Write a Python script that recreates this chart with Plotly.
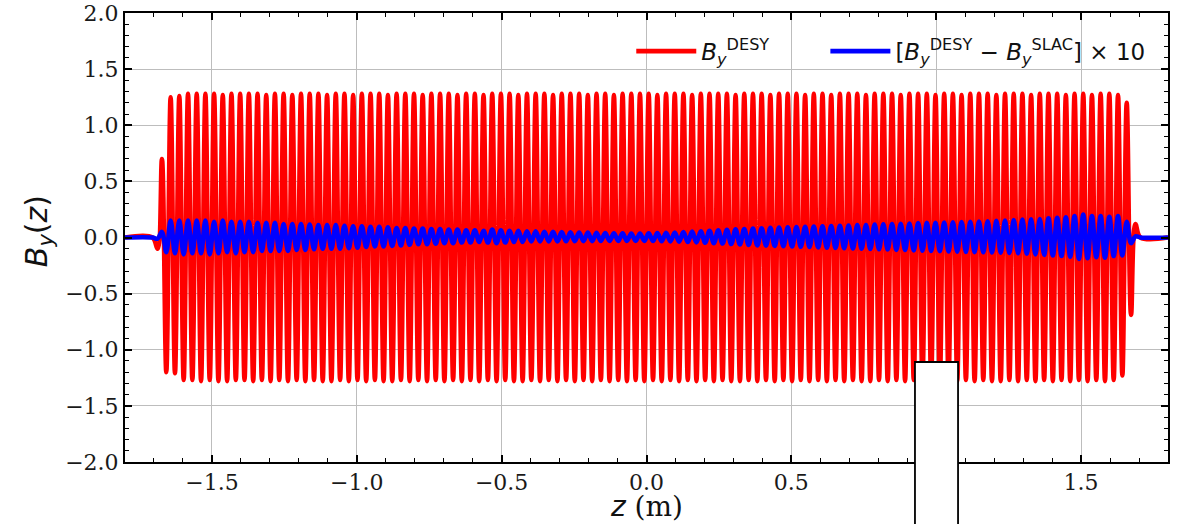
import plotly.graph_objects as go

# positions of the field extrema along the undulator (m)
z_ext = [
    -1.6875, -1.6725, -1.6575, -1.6425, -1.6275, -1.6125, -1.5975, -1.5825, -1.5675, -1.5525,
    -1.5375, -1.5225, -1.5075, -1.4925, -1.4775, -1.4625, -1.4475, -1.4325, -1.4175, -1.4025,
    -1.3875, -1.3725, -1.3575, -1.3425, -1.3275, -1.3125, -1.2975, -1.2825, -1.2675, -1.2525,
    -1.2375, -1.2225, -1.2075, -1.1925, -1.1775, -1.1625, -1.1475, -1.1325, -1.1175, -1.1025,
    -1.0875, -1.0725, -1.0575, -1.0425, -1.0275, -1.0125, -0.9975, -0.9825, -0.9675, -0.9525,
    -0.9375, -0.9225, -0.9075, -0.8925, -0.8775, -0.8625, -0.8475, -0.8325, -0.8175, -0.8025,
    -0.7875, -0.7725, -0.7575, -0.7425, -0.7275, -0.7125, -0.6975, -0.6825, -0.6675, -0.6525,
    -0.6375, -0.6225, -0.6075, -0.5925, -0.5775, -0.5625, -0.5475, -0.5325, -0.5175, -0.5025,
    -0.4875, -0.4725, -0.4575, -0.4425, -0.4275, -0.4125, -0.3975, -0.3825, -0.3675, -0.3525,
    -0.3375, -0.3225, -0.3075, -0.2925, -0.2775, -0.2625, -0.2475, -0.2325, -0.2175, -0.2025,
    -0.1875, -0.1725, -0.1575, -0.1425, -0.1275, -0.1125, -0.0975, -0.0825, -0.0675, -0.0525,
    -0.0375, -0.0225, -0.0075, 0.0075, 0.0225, 0.0375, 0.0525, 0.0675, 0.0825, 0.0975,
    0.1125, 0.1275, 0.1425, 0.1575, 0.1725, 0.1875, 0.2025, 0.2175, 0.2325, 0.2475,
    0.2625, 0.2775, 0.2925, 0.3075, 0.3225, 0.3375, 0.3525, 0.3675, 0.3825, 0.3975,
    0.4125, 0.4275, 0.4425, 0.4575, 0.4725, 0.4875, 0.5025, 0.5175, 0.5325, 0.5475,
    0.5625, 0.5775, 0.5925, 0.6075, 0.6225, 0.6375, 0.6525, 0.6675, 0.6825, 0.6975,
    0.7125, 0.7275, 0.7425, 0.7575, 0.7725, 0.7875, 0.8025, 0.8175, 0.8325, 0.8475,
    0.8625, 0.8775, 0.8925, 0.9075, 0.9225, 0.9375, 0.9525, 0.9675, 0.9825, 0.9975,
    1.0125, 1.0275, 1.0425, 1.0575, 1.0725, 1.0875, 1.1025, 1.1175, 1.1325, 1.1475,
    1.1625, 1.1775, 1.1925, 1.2075, 1.2225, 1.2375, 1.2525, 1.2675, 1.2825, 1.2975,
    1.3125, 1.3275, 1.3425, 1.3575, 1.3725, 1.3875, 1.4025, 1.4175, 1.4325, 1.4475,
    1.4625, 1.4775, 1.4925, 1.5075, 1.5225, 1.5375, 1.5525, 1.5675, 1.5825, 1.5975,
    1.6125, 1.6275, 1.6425, 1.6575, 1.6725, 1.6875,
]

# B_y^DESY at each extremum
by_desy = [
    -0.10, 0.70, -1.20, 1.25, -1.21, 1.26, -1.27, 1.28, -1.27, 1.28,
    -1.28, 1.28, -1.27, 1.28, -1.28, 1.27, -1.28, 1.28, -1.27, 1.28,
    -1.27, 1.28, -1.28, 1.28, -1.27, 1.27, -1.28, 1.28, -1.27, 1.28,
    -1.28, 1.27, -1.27, 1.28, -1.28, 1.28, -1.27, 1.28, -1.28, 1.27,
    -1.28, 1.28, -1.27, 1.28, -1.28, 1.27, -1.27, 1.28, -1.28, 1.28,
    -1.27, 1.28, -1.28, 1.27, -1.28, 1.28, -1.27, 1.28, -1.28, 1.28,
    -1.27, 1.27, -1.28, 1.28, -1.27, 1.28, -1.28, 1.28, -1.27, 1.27,
    -1.28, 1.28, -1.27, 1.28, -1.28, 1.27, -1.27, 1.28, -1.28, 1.28,
    -1.27, 1.28, -1.28, 1.27, -1.28, 1.28, -1.27, 1.28, -1.28, 1.28,
    -1.27, 1.27, -1.28, 1.28, -1.27, 1.28, -1.28, 1.28, -1.27, 1.27,
    -1.28, 1.28, -1.27, 1.28, -1.28, 1.27, -1.27, 1.28, -1.28, 1.28,
    -1.27, 1.28, -1.28, 1.28, -1.27, 1.27, -1.28, 1.28, -1.27, 1.28,
    -1.28, 1.28, -1.27, 1.27, -1.28, 1.28, -1.27, 1.28, -1.28, 1.28,
    -1.27, 1.28, -1.28, 1.27, -1.28, 1.28, -1.27, 1.28, -1.28, 1.28,
    -1.27, 1.27, -1.28, 1.28, -1.27, 1.28, -1.28, 1.28, -1.27, 1.27,
    -1.28, 1.28, -1.27, 1.28, -1.28, 1.27, -1.27, 1.28, -1.28, 1.28,
    -1.27, 1.28, -1.28, 1.27, -1.28, 1.28, -1.27, 1.28, -1.28, 1.28,
    -1.27, 1.27, -1.28, 1.28, -1.27, 1.28, -1.28, 1.28, -1.27, 1.27,
    -1.28, 1.28, -1.27, 1.28, -1.28, 1.27, -1.27, 1.28, -1.28, 1.28,
    -1.27, 1.28, -1.28, 1.27, -1.28, 1.28, -1.27, 1.28, -1.28, 1.28,
    -1.27, 1.27, -1.28, 1.28, -1.27, 1.28, -1.28, 1.28, -1.27, 1.27,
    -1.28, 1.28, -1.27, 1.28, -1.28, 1.27, -1.27, 1.28, -1.28, 1.28,
    -1.27, 1.27, -1.23, 1.20, -0.69, 0.12,
]

# [B_y^DESY - B_y^SLAC] x 10 at each extremum
by_diff10 = [
    -0.01, 0.05, -0.13, 0.15, -0.14, 0.15, -0.15, 0.15, -0.14, 0.15,
    -0.14, 0.15, -0.15, 0.14, -0.14, 0.15, -0.13, 0.14, -0.14, 0.14,
    -0.13, 0.14, -0.13, 0.13, -0.12, 0.13, -0.12, 0.13, -0.12, 0.12,
    -0.12, 0.12, -0.11, 0.12, -0.11, 0.115, -0.105, 0.11, -0.10, 0.11,
    -0.10, 0.11, -0.10, 0.105, -0.095, 0.10, -0.09, 0.10, -0.085, 0.095,
    -0.08, 0.095, -0.08, 0.09, -0.075, 0.085, -0.07, 0.085, -0.065, 0.08,
    -0.06, 0.08, -0.06, 0.075, -0.055, 0.075, -0.05, 0.07, -0.05, 0.07,
    -0.045, 0.065, -0.045, 0.065, -0.04, 0.06, -0.045, 0.07, -0.05, 0.065,
    -0.045, 0.06, -0.04, 0.06, -0.04, 0.055, -0.035, 0.055, -0.035, 0.05,
    -0.035, 0.05, -0.035, 0.048, -0.034, 0.046, -0.033, 0.045, -0.032, 0.044,
    -0.032, 0.042, -0.031, 0.04, -0.03, 0.038, -0.03, 0.037, -0.03, 0.036,
    -0.03, 0.036, -0.03, 0.037, -0.031, 0.04, -0.033, 0.042, -0.035, 0.045,
    -0.037, 0.048, -0.04, 0.052, -0.043, 0.056, -0.047, 0.06, -0.05, 0.064,
    -0.054, 0.068, -0.058, 0.072, -0.062, 0.076, -0.066, 0.08, -0.07, 0.083,
    -0.072, 0.086, -0.075, 0.088, -0.078, 0.09, -0.08, 0.093, -0.083, 0.095,
    -0.085, 0.097, -0.088, 0.10, -0.09, 0.102, -0.093, 0.105, -0.096, 0.107,
    -0.098, 0.11, -0.10, 0.112, -0.103, 0.115, -0.105, 0.117, -0.107, 0.12,
    -0.11, 0.122, -0.112, 0.125, -0.115, 0.128, -0.117, 0.13, -0.12, 0.132,
    -0.122, 0.134, -0.124, 0.136, -0.126, 0.138, -0.128, 0.14, -0.13, 0.142,
    -0.132, 0.145, -0.134, 0.148, -0.136, 0.15, -0.138, 0.155, -0.14, 0.16,
    -0.145, 0.162, -0.15, 0.165, -0.155, 0.17, -0.16, 0.175, -0.165, 0.18,
    -0.17, 0.19, -0.19, 0.205, -0.185, 0.19, -0.175, 0.19, -0.18, 0.185,
    -0.165, 0.19, -0.16, 0.14, -0.05, 0.01,
]

# field-free drift before and after the undulator
z_lead = [-1.80, -1.705]
z_tail = [1.705, 1.80]
b_free = [0.0, 0.0]

x_ticks = [-1.5, -1.0, -0.5, 0.0, 0.5, 1.0, 1.5]
x_ticklabels = ["\u22121.5", "\u22121.0", "\u22120.5", "0.0", "0.5", "1.0", "1.5"]
y_ticks = [-2.0, -1.5, -1.0, -0.5, 0.0, 0.5, 1.0, 1.5, 2.0]
y_ticklabels = ["\u22122.0", "\u22121.5", "\u22121.0", "\u22120.5", "0.0", "0.5", "1.0", "1.5", "2.0"]

z_all = z_lead + z_ext + z_tail
red_all = b_free + by_desy + b_free
blue_all = b_free + by_diff10 + b_free

NB = "\u00a0"
fig = go.Figure()
fig.add_trace(go.Scatter(
    x=z_all, y=red_all, mode="lines",
    line=dict(color="#ff0000", width=4.6, shape="spline", smoothing=1.0),
    name="<i>B</i><sub><i>y</i></sub><sup>DESY</sup>" + NB * 7,
))
fig.add_trace(go.Scatter(
    x=z_all, y=blue_all, mode="lines",
    line=dict(color="#0000ff", width=4.6, shape="spline", smoothing=1.0),
    name="[<i>B</i><sub><i>y</i></sub><sup>DESY</sup> \u2212 <i>B</i><sub><i>y</i></sub><sup>SLAC</sup>] \u00d7 10",
))

axis_common = dict(
    showline=True, linecolor="black", linewidth=2, mirror="allticks",
    ticks="inside", ticklen=7, tickwidth=1.6, tickcolor="black",
    showgrid=True, gridcolor="#bdbdbd", gridwidth=1.4, zeroline=False,
    tickfont=dict(family="DejaVu Serif", size=22, color="#1a1a1a"),
    automargin=False, ticklabeloverflow="allow",
)

fig.update_xaxes(
    range=[-1.8, 1.8], tickvals=x_ticks, ticktext=x_ticklabels,
    minor=dict(dtick=0.1, ticks="inside", ticklen=4, tickwidth=1.2, tickcolor="black", showgrid=False),
    **axis_common,
)
fig.update_yaxes(
    range=[-2.0, 2.0], tickvals=y_ticks, ticktext=y_ticklabels,
    minor=dict(dtick=0.1, ticks="inside", ticklen=4, tickwidth=1.2, tickcolor="black", showgrid=False),
    **axis_common,
)

fig.update_layout(
    width=1179, height=524,
    margin=dict(l=125, r=11, t=13, b=62),
    paper_bgcolor="white", plot_bgcolor="white",
    showlegend=True,
    legend=dict(
        orientation="h", x=0.983, xanchor="right", y=0.915, yanchor="middle",
        bgcolor="rgba(0,0,0,0)", font=dict(family="DejaVu Sans", size=23, color="#111111"),
        itemwidth=60, tracegroupgap=0,
    ),
    annotations=[
        dict(text="<i>z</i> <span style='font-family:DejaVu Serif'>(m)</span>",
             xref="paper", yref="paper", x=0.5, y=-0.1, xanchor="center", yanchor="middle",
             showarrow=False, font=dict(family="DejaVu Sans", size=28, color="#111111")),
        dict(text="<i>B</i><sub><i>y</i></sub>(<i>z</i>)",
             xref="paper", yref="paper", x=-0.083, y=0.515, xanchor="center", yanchor="middle",
             textangle=-90, showarrow=False, font=dict(family="DejaVu Sans", size=30, color="#111111")),
    ],
    shapes=[dict(
        type="rect", xref="paper", yref="paper",
        x0=0.7574, x1=0.7987, y0=-0.3, y1=0.2227,
        fillcolor="white", line=dict(color="black", width=1.8), layer="above",
    )],
)

fig.write_html(
    "out.html",
    config={"displayModeBar": False},
    post_script="document.body.style.margin='0';document.body.style.overflow='hidden';",
)
